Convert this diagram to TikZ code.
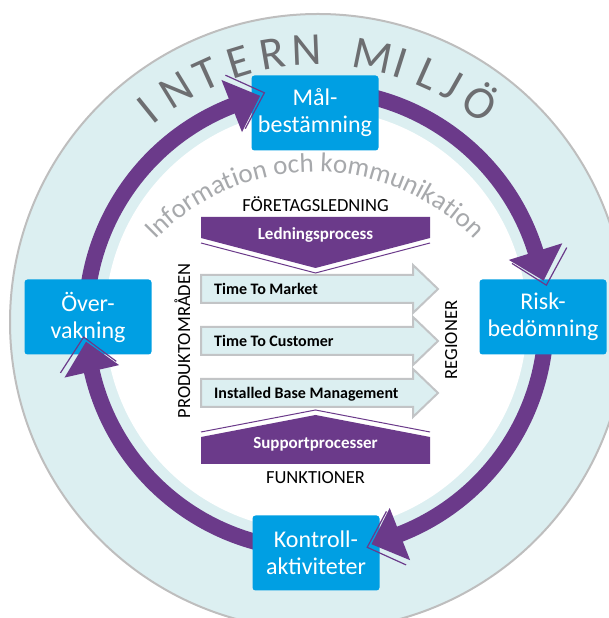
\documentclass[tikz,border=0pt]{standalone}
\usepackage{fontspec}
\setmainfont{Carlito}
\usetikzlibrary{decorations.text}
\definecolor{ringpurple}{HTML}{6B3A8A}
\definecolor{bandblue}{HTML}{DCEFF1}
\definecolor{boxblue}{HTML}{009FE3}
\definecolor{rimgray}{HTML}{BEBEBE}
\definecolor{flowgray}{HTML}{C2C4C6}
\definecolor{lettergray}{HTML}{6D6E71}
\definecolor{infogray}{HTML}{A7A9AC}
\newcommand{\infofont}{\fontsize{27}{27}\selectfont\color{infogray}}
\begin{document}
\begin{tikzpicture}[x=1pt,y=1pt,
  ring/.style={draw=ringpurple,line width=16pt},
  stepbox/.style={fill=boxblue,text=white,rounded corners=3pt,minimum width=127pt,minimum height=75pt,align=center,inner sep=0pt,font=\fontsize{24}{27}\selectfont},
  capslabel/.style={anchor=base,inner sep=0pt,font=\fontsize{18.5}{19}\selectfont},
  flow/.style={draw=flowgray,fill=bandblue,line width=2pt},
  flowtext/.style={anchor=base west,inner sep=0pt,font=\fontsize{16}{16}\selectfont\bfseries},
  proc/.style={anchor=base,inner sep=0pt,text=white,font=\fontsize{17}{17}\selectfont\bfseries},
  miljo/.style={anchor=base,inner sep=0pt,text=lettergray,font=\fontsize{46}{46}\selectfont}]
\useasboundingbox (0,0) rectangle (609,618);
\coordinate (outerc) at (318,296);
\coordinate (ringc) at (316,298);
\coordinate (infoc) at (315,225);
\path[fill=bandblue,draw=rimgray,line width=2pt] (outerc) circle[radius=308];
\fill[white] (ringc) circle[radius=211];
\foreach \s/\t in {185/104,85/9.8,-5/-76.1,-100/-174.6}
  \draw[ring] ([shift={(\s:230)}]ringc) arc[start angle=\s,end angle=\t+7,radius=230];
\path[decorate,decoration={text along path,text align=center,text={|\infofont|Information och kommunikation}}] ([shift={(137:221)}]infoc) arc[start angle=137,end angle=43,radius=221];
\foreach \ch/\ang [count=\k] in {I/128.8,N/121.5,T/114.3,E/107,R/99.7,N/92.3,M/78.4,I/72.4,L/66,J/60.4,Ö/53.6}
  \node[miljo,rotate=\ang-90] (miljo\k) at ([shift={(\ang:257)}]outerc) {\ch};
\node[capslabel] (ledning) at (315.5,406) {FÖRETAGSLEDNING};
\fill[ringpurple] (201,401) -- (430,401) -- (430,380) -- (315.5,350) -- (201,380) -- cycle;
\draw[ringpurple,line width=1pt] (201,375) -- (315.5,345) -- (430,375);
\node[proc] (ledproc) at (315.5,378) {Ledningsprocess};
\foreach \lbl [count=\i] in {Time To Market,Time To Customer,Installed Base Management}{
  \pgfmathsetmacro\yy{381-52*\i}
  \draw[flow] (201,\yy-14) -- (413,\yy-14) -- (413,\yy-24) -- (438,\yy) -- (413,\yy+24) -- (413,\yy+14) -- (201,\yy+14) -- cycle;
  \node[flowtext] (flow\i) at (214,\yy-5.5) {\lbl};
}
\fill[ringpurple] (201,154) -- (430,154) -- (430,181) -- (315.5,203) -- (201,181) -- cycle;
\draw[ringpurple,line width=1pt] (201,186) -- (315.5,208) -- (430,186);
\node[proc] (supproc) at (315.5,169) {Supportprocesser};
\node[capslabel] (funktion) at (315.5,134) {FUNKTIONER};
\node[capslabel,rotate=90] (produkt) at (190,277) {PRODUKTOMRÅDEN};
\node[capslabel,rotate=90] (region) at (457,278) {REGIONER};
\node[stepbox] (maal) at (315,505) {Mål-\\bestämning};
\node[stepbox] (risk) at (543,301) {Risk-\\bedömning};
\node[stepbox] (kontroll) at (316,65) {Kontroll-\\aktiviteter};
\node[stepbox] (overv) at (88,301) {Över-\\vakning};
\foreach \t in {104,9.8,-76.1,-174.6}{
  \fill[ringpurple] ([shift={(\t+7.5:258)}]ringc) -- ([shift={(\t:231)}]ringc) -- ([shift={(\t+7.5:202)}]ringc) -- cycle;
  \draw[ringpurple,line width=1.2pt] ([shift={(\t+6.3:261)}]ringc) -- ([shift={(\t-1.2:233)}]ringc) -- ([shift={(\t+6.3:204)}]ringc);
}
\end{tikzpicture}
\end{document}
